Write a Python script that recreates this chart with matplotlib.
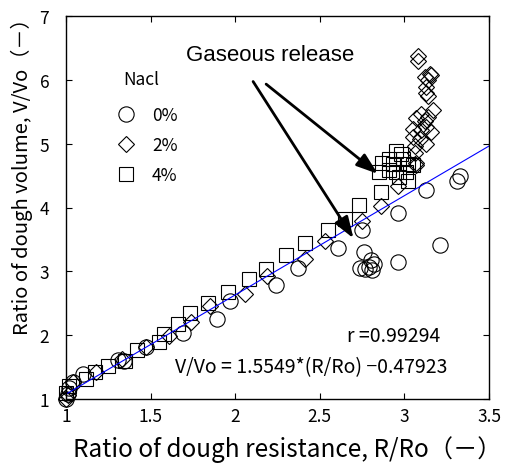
import matplotlib
matplotlib.use("Agg")
import matplotlib.pyplot as plt
import numpy as np
from matplotlib.lines import Line2D

plt.rcParams['font.family'] = ['Noto Sans CJK JP', 'DejaVu Sans']

# 0% NaCl (circles)
x0 = [1.00, 1.01, 1.02, 1.04, 1.10, 1.31, 1.34, 1.47, 1.69, 1.89, 1.97, 2.24, 2.37,
      2.61, 2.74, 2.77, 2.79, 2.80, 2.81, 2.82, 2.75, 2.76, 2.96, 2.96, 3.13, 3.21, 3.31, 3.33]
y0 = [1.00, 1.08, 1.18, 1.26, 1.39, 1.61, 1.60, 1.81, 2.04, 2.26, 2.54, 2.78, 3.06,
      3.37, 3.05, 3.04, 3.07, 3.18, 3.02, 3.12, 3.64, 3.31, 3.15, 3.92, 4.28, 3.41, 4.42, 4.50]

# 2% NaCl (diamonds)
x2 = [1.00, 1.01, 1.04, 1.18, 1.33, 1.47, 1.61, 1.74, 1.85, 2.06, 2.19, 2.41, 2.53,
      2.75, 2.86, 2.96, 3.07, 3.07, 3.06, 3.06, 3.13, 3.05, 3.09, 3.05, 3.10, 3.13, 3.16,
      3.10, 3.07, 3.12, 3.14, 3.17, 3.14, 3.13, 3.13, 3.12, 3.15, 3.16, 3.14, 3.08, 3.08]
y2 = [1.00, 1.06, 1.27, 1.43, 1.63, 1.81, 1.98, 2.20, 2.46, 2.64, 2.93, 3.19, 3.48,
      3.79, 4.03, 4.34, 4.66, 4.70, 4.86, 4.97, 5.00, 5.10, 5.08, 5.23, 5.21, 5.26, 5.18,
      5.46, 5.40, 5.36, 5.42, 5.52, 5.75, 5.80, 5.88, 6.05, 6.09, 6.07, 5.99, 6.30, 6.38]

# 4% NaCl (squares)
x4 = [1.00, 1.02, 1.12, 1.17, 1.25, 1.35, 1.42, 1.55, 1.58, 1.66, 1.73, 1.84, 1.96,
      2.08, 2.18, 2.30, 2.41, 2.55, 2.65, 2.73, 2.86, 2.85, 2.91, 2.87, 2.93, 2.95, 2.91,
      2.98, 2.95, 2.99, 3.01, 3.02, 3.05, 2.97, 3.02]
y4 = [1.10, 1.21, 1.31, 1.43, 1.51, 1.60, 1.77, 1.89, 2.02, 2.17, 2.34, 2.50, 2.68,
      2.88, 3.04, 3.25, 3.44, 3.65, 3.82, 4.04, 4.24, 4.55, 4.58, 4.70, 4.68, 4.89, 4.76,
      4.84, 4.55, 4.76, 4.55, 4.68, 4.66, 4.47, 4.42]

slope, intercept = 1.5549, -0.47923
r_value = 0.99294
legend_labels = ['0%', '2%', '4%']
xtick_vals = [1, 1.5, 2, 2.5, 3, 3.5]
xtick_labels = ['1', '1.5', '2', '2.5', '3', '3.5']
ytick_vals = [1, 2, 3, 4, 5, 6, 7]

fig = plt.figure(figsize=(5.10, 4.64), dpi=100)
ax = fig.add_axes([66/510, 1-400/464, (489-66)/510, (400-17)/464])

style = dict(linestyle='none', markerfacecolor='none', markeredgecolor='black',
             markeredgewidth=0.8)
sizes = {'o': 11, 'D': 7.8, 's': 10}
ax.plot(x0, y0, marker='o', markersize=sizes['o'], clip_on=False, **style)
ax.plot(x2, y2, marker='D', markersize=sizes['D'], clip_on=False, **style)
ax.plot(x4, y4, marker='s', markersize=sizes['s'], clip_on=False, **style)

xf = np.linspace(1.0, 3.5, 50)
ax.plot(xf, slope*xf + intercept, color='blue', linewidth=0.8)

ax.set_xlim(1, 3.5)
ax.set_ylim(1, 7)
ax.set_xticks(xtick_vals)
ax.set_xticklabels(xtick_labels)
ax.set_yticks(ytick_vals)
ax.tick_params(direction='in', length=4, width=0.8, top=True, right=True,
               labelsize=12.5)
ax.tick_params(axis='x', pad=6)
ax.tick_params(axis='y', pad=12)
for s in ax.spines.values():
    s.set_linewidth(1.0)

ax.set_xlabel('Ratio of dough resistance, R/Ro（－）', fontsize=17.5, va='center')
ax.xaxis.set_label_coords(0.5 + 10/423, (400-450)/383)
ax.set_ylabel('Ratio of dough volume, V/Vo（－）', fontsize=14.5, va='center')
ax.yaxis.set_label_coords((22-66)/423, (400-172)/383)

# legend
handles = [Line2D([], [], marker=m, markersize=sizes[m], **style) for m in ['o', 'D', 's']]
ax.legend(handles, legend_labels, frameon=False,
          loc='upper left', bbox_to_anchor=(0.084, 0.805),
          fontsize=12.5, handlelength=1.0,
          handletextpad=1.0, labelspacing=0.68)
ax.text((141.5-66)/423, 1 - (80-17)/383, 'Nacl', transform=ax.transAxes,
        fontsize=12.5, ha='center', va='center')

ax.text(2.206, 6.40, 'Gaseous release', fontsize=16, family='Liberation Sans',
        ha='center', va='center')
arrow = dict(arrowstyle='-|>,head_length=1.3,head_width=0.45', color='black', lw=2)
ax.annotate('', xy=(2.708, 3.48), xytext=(2.097, 6.01), arrowprops=arrow)
ax.annotate('', xy=(2.856, 4.50), xytext=(2.170, 5.96), arrowprops=arrow)

ax.text(3.21, 1.99, f'r ={r_value}', fontsize=14, ha='right', va='center')
ax.text(3.252, 1.50, f'V/Vo = {slope}*(R/Ro) −{abs(intercept)}', fontsize=14,
        ha='right', va='center')

fig.savefig('out.png', dpi=100)
